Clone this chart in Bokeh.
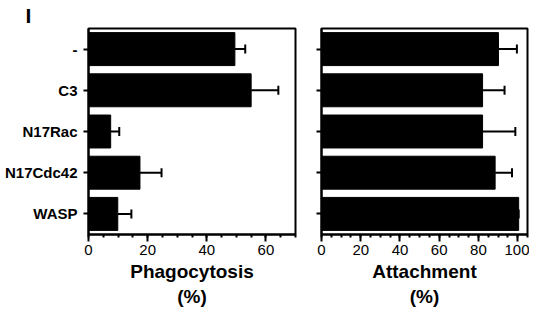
from bokeh.plotting import figure
from bokeh.layouts import row
from bokeh.models import (ColumnDataSource, FactorRange, Range1d, FixedTicker,
                          Whisker, TeeHead, CustomJSTickFormatter)
from bokeh.embed import file_html
from bokeh.resources import INLINE

categories = ["-", "C3", "N17Rac", "N17Cdc42", "WASP"]
phago = [49.5, 55, 7.5, 17.4, 9.9]
phago_err = [3.5, 9.2, 2.9, 7.3, 4.6]
attach = [90.2, 82.1, 82.1, 88.5, 100.5]
attach_err = [9.4, 11.2, 16.7, 8.6, 0]
phago_ticks = [0, 20, 40, 60]
attach_ticks = [0, 20, 40, 60, 80, 100]

FONT = "Liberation Sans"
FRAME_H = 206


def panel(values, errs, xmax, ticks, title, fw, show_labels, mbl, mbr):
    src = ColumnDataSource(dict(cat=categories, v=values,
                                up=[a + b for a, b in zip(values, errs)]))
    p = figure(frame_width=fw, frame_height=FRAME_H, output_backend="svg",
               toolbar_location=None,
               y_range=FactorRange(factors=categories[::-1]),
               x_range=Range1d(0, xmax),
               min_border_left=mbl, min_border_right=mbr,
               min_border_top=28, min_border_bottom=0)
    p.hbar(y="cat", right="v", left=0, height=0.8, source=src,
           fill_color="black", line_color="black")
    w = Whisker(base="cat", lower="v", upper="up", dimension="width",
                source=src, line_width=2, line_color="black",
                lower_head=None,
                upper_head=TeeHead(size=9, line_width=2, line_color="black"))
    p.add_layout(w)
    p.grid.visible = False
    p.outline_line_color = "black"
    p.outline_line_width = 2
    p.outline_line_alpha = 1
    p.background_fill_color = "white"
    p.border_fill_color = "white"

    xa = p.xaxis[0]
    xa.ticker = FixedTicker(ticks=ticks,
                            minor_ticks=list(range(0, int(xmax) + 1, 5)))
    xa.axis_line_width = 2
    xa.major_tick_line_width = 2
    xa.minor_tick_line_width = 2
    xa.major_tick_out = 7
    xa.major_tick_in = 0
    xa.minor_tick_out = 3
    xa.minor_tick_in = 0
    xa.major_label_text_font = FONT
    xa.major_label_text_font_size = "15px"
    xa.major_label_text_color = "black"
    xa.major_label_standoff = 3
    xa.axis_label = title + "\n(%)"
    xa.axis_label_text_font = FONT
    xa.axis_label_text_font_style = "bold"
    xa.axis_label_text_font_size = "19px"
    xa.axis_label_text_color = "black"
    xa.axis_label_standoff = 3

    ya = p.yaxis[0]
    ya.axis_line_width = 2
    ya.major_tick_line_width = 2
    ya.major_tick_out = 5
    ya.major_tick_in = 0
    ya.minor_tick_line_color = None
    ya.major_label_text_font = FONT
    ya.major_label_text_font_style = "bold"
    ya.major_label_text_font_size = "15px"
    ya.major_label_text_color = "black"
    if show_labels:
        ya.major_label_standoff = 6
    else:
        ya.major_label_standoff = 0
        ya.formatter = CustomJSTickFormatter(code="return ''")
    return p


p1 = panel(phago, phago_err, 70, phago_ticks, "Phagocytosis", 207, True, 88, 18)
p1.title.text = "I"
p1.title.align = "left"
p1.title.offset = -63
p1.title.standoff = 3
p1.title.text_font = FONT
p1.title.text_font_style = "bold"
p1.title.text_font_size = "21px"
p1.title.text_color = "black"
p2 = panel(attach, attach_err, 105, attach_ticks, "Attachment", 206, False, 8, 2)

layout = row(p1, p2, spacing=0)
open("out.html", "w").write(file_html(layout, INLINE))
